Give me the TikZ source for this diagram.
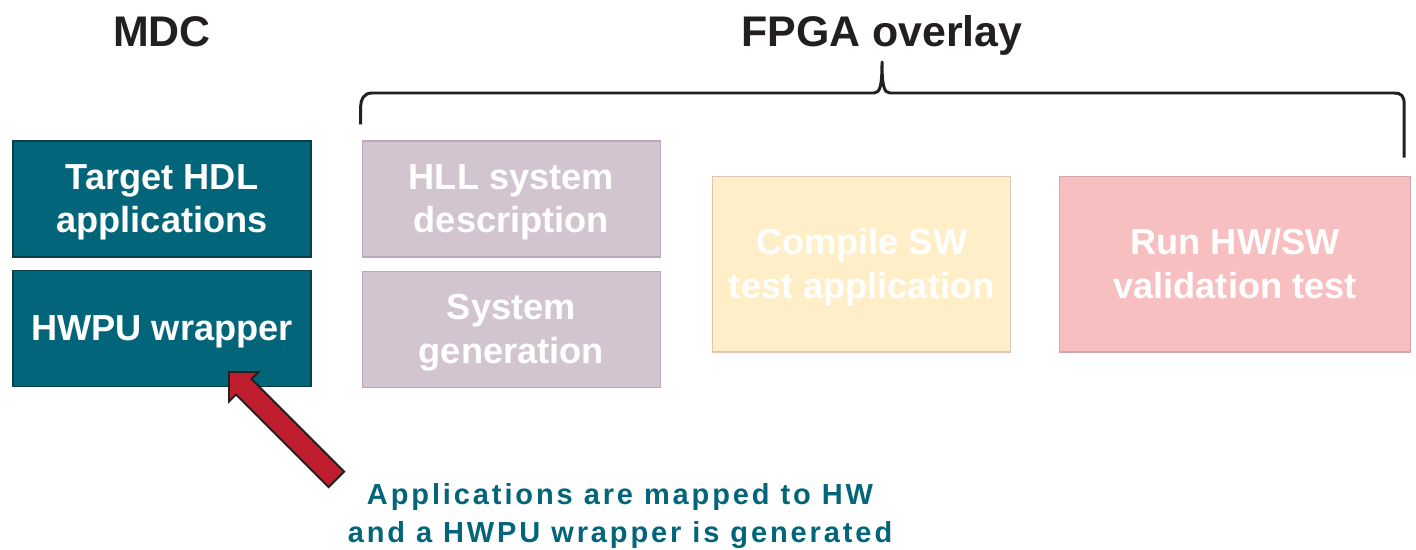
\documentclass[tikz,border=0pt]{standalone}
\usepackage{fontspec}
\setmainfont{Liberation Sans}
\newfontfamily\notefont[LetterSpace=10]{Liberation Sans}
\usepackage{tikz}
\usetikzlibrary{arrows.meta, shapes.arrows, positioning, calc}

\definecolor{mdcfill}{HTML}{03657A}
\definecolor{mdcedge}{HTML}{0B3F4D}
\definecolor{hllfill}{HTML}{D2C5D0}
\definecolor{hlledge}{HTML}{BBA9B9}
\definecolor{swfill}{HTML}{FFEFC9}
\definecolor{swedge}{HTML}{DEC6B6}
\definecolor{runfill}{HTML}{F8BFC1}
\definecolor{runedge}{HTML}{D6A5AE}
\definecolor{notered}{HTML}{BE1E2D}
\definecolor{inkdark}{HTML}{231F20}

% line struts so every box centres its text the same way
\newcommand{\topstrut}{\rule{0pt}{18.6pt}}
\newcommand{\botstrut}{\rule[-5pt]{0pt}{5pt}}

\begin{document}
\begin{tikzpicture}[
  x = 0.02cm, y = -0.02cm,
  box/.style   = {rectangle, draw, line width=0.8pt, minimum width=5.96cm,
                  minimum height=2.32cm, align=center, inner sep=0pt, text=white,
                  font=\fontsize{20.6}{24.9}\selectfont\bfseries},
  tallbox/.style = {box, minimum height=3.52cm},
  title/.style = {font=\fontsize{24.4}{29}\selectfont\bfseries, text=inkdark, anchor=base},
  note/.style  = {align=center, text=mdcfill,
                  font=\notefont\fontsize{16.5}{21.5}\selectfont\bfseries},
  bigarr/.style = {single arrow, draw=inkdark, fill=notered, line width=1.1pt,
                   minimum height=3.04cm, inner xsep=0pt, inner ysep=0.2cm,
                   single arrow head extend=0.2cm, single arrow tip angle=90}
]
  \useasboundingbox (0,0) rectangle (1416,550);

  % MDC column
  \node[box, fill=mdcfill, draw=mdcedge] (target) at (162,199)
       {\topstrut Target HDL\\applications\botstrut};
  \node[box, fill=mdcfill, draw=mdcedge, below=0.24cm of target] (hwpu)
       {\topstrut HWPU wrapper\botstrut};
  \node[title] (mdc) at (162,47) {MDC};

  % FPGA overlay flow
  \node[box, fill=hllfill, draw=hlledge, right=1.0cm of target] (hll)
       {\topstrut HLL system\\description\botstrut};
  \node[box, fill=hllfill, draw=hlledge, below=0.26cm of hll] (sysgen)
       {\topstrut System\\generation\botstrut};
  \coordinate (mid) at ($(hll.south east)!0.5!(sysgen.north east)$);
  \node[tallbox, fill=swfill, draw=swedge, right=1.02cm of mid] (compile)
       {\topstrut Compile SW\\test application\botstrut};
  \node[tallbox, fill=runfill, draw=runedge, minimum width=7.02cm,
        right=0.95cm of compile] (run) {\topstrut Run HW/SW\\validation test\botstrut};
  \node[title] (fpga) at (882,47) {FPGA overlay};

  % brace over the overlay steps
  \coordinate (bl) at ($(hll.north west)+(-1,-16)$);
  \coordinate (br) at ($(run.north east)+(-7,-18)$);
  \coordinate (tip) at (882,62);
  \draw[inkdark, line width=1.7pt, line join=round]
    (bl) -- ++(0,-18) .. controls ++(0,-7) and (364,93) .. (372,93)
    -- (874,93) .. controls (880,93) and (882,86) .. (tip)
    .. controls (882,86) and (884,93) .. (890,93)
    -- ($(br|-tip)+(-10,31)$) .. controls ($(br|-tip)+(-3,31)$) and ($(br|-tip)+(0,34)$) .. ($(br|-tip)+(0,42)$)
    -- (br);

  % note with arrow to the wrapper
  \node[note] (txt) at (620,516) {Applications are mapped to HW\\and a HWPU wrapper is generated};
  \node[bigarr, rotate=135, anchor=tip] (arr) at (228,371) {};
\end{tikzpicture}
\end{document}
